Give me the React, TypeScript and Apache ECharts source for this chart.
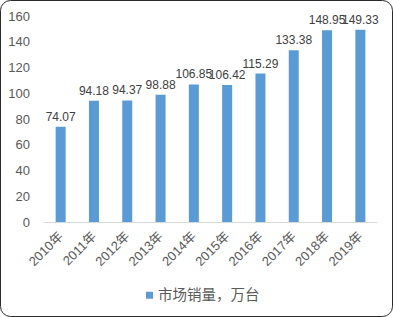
import React, { useEffect, useRef } from "react";
import * as echarts from "echarts";

const categories = ["2010年", "2011年", "2012年", "2013年", "2014年", "2015年", "2016年", "2017年", "2018年", "2019年"];
const salesValues = [74.07, 94.18, 94.37, 98.88, 106.85, 106.42, 115.29, 133.38, 148.95, 149.33];
const seriesName = "市场销量，万台";

const FONT = "'Liberation Sans','Noto Sans CJK SC',sans-serif";

export default function App() {
  const ref = useRef<HTMLDivElement>(null);
  useEffect(() => {
    document.body.style.margin = "0";
    const chart = echarts.init(ref.current!, null, { renderer: "svg" });
    chart.setOption({
      animation: false,
      backgroundColor: "#ffffff",
      textStyle: { fontFamily: FONT },
      grid: { left: 44, right: 16, top: 16, bottom: 95, containLabel: false },
      graphic: [
        {
          type: "rect",
          shape: { x: 0.5, y: 0.5, width: 392, height: 316, r: 10 },
          style: { fill: "none", stroke: "#2b2b2b", lineWidth: 1 },
          silent: true,
          z: 100,
        },
      ],
      legend: {
        data: [seriesName],
        left: 141,
        top: 283,
        itemWidth: 7,
        itemHeight: 7,
        itemGap: 5,
        icon: "rect",
        textStyle: { color: "#595959", fontSize: 14.5, fontFamily: FONT },
      },
      xAxis: {
        type: "category",
        data: categories,
        axisLine: { show: true, lineStyle: { color: "#d9d9d9", width: 1 } },
        axisTick: { show: false },
        axisLabel: { rotate: 45, color: "#595959", fontSize: 13, margin: 12, fontFamily: FONT },
      },
      yAxis: {
        type: "value",
        min: 0,
        max: 160,
        interval: 20,
        axisLine: { show: false },
        axisTick: { show: false },
        splitLine: { show: false },
        axisLabel: { color: "#595959", fontSize: 13, margin: 14, fontFamily: FONT },
      },
      series: [
        {
          name: seriesName,
          type: "bar",
          data: salesValues,
          barWidth: 10,
          itemStyle: { color: "#5b9bd5" },
          label: {
            show: true,
            position: "top",
            distance: 4,
            color: "#404040",
            fontSize: 12,
            fontFamily: FONT,
          },
        },
      ],
    });
    return () => chart.dispose();
  }, []);
  return <div ref={ref} style={{ position: "absolute", left: 0, top: 0, width: 393, height: 317 }} />;
}
